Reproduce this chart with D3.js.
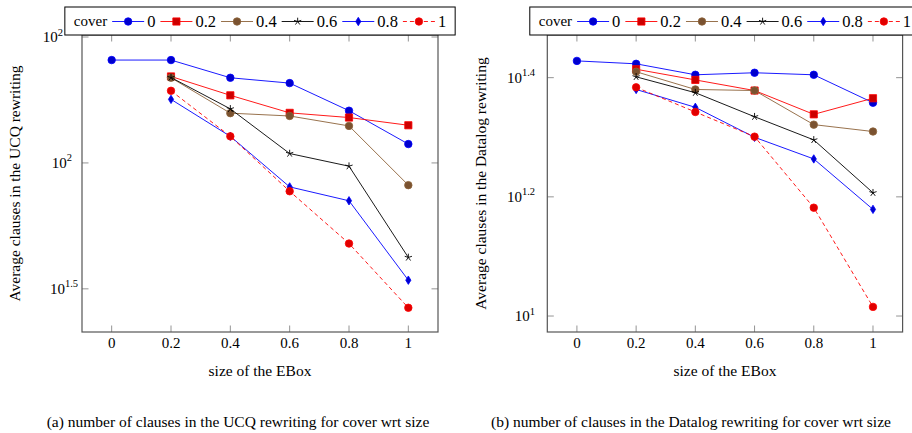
<!DOCTYPE html>
<html>
<head>
<meta charset="utf-8">
<script src="https://cdn.jsdelivr.net/npm/d3@7/dist/d3.min.js"></script>
<style>
  body { margin: 0; background: #fff; }
  svg { display: block; }
  text { font-family: "Liberation Serif", "DejaVu Serif", serif; fill: #000; }
</style>
</head>
<body>
<div id="graph"></div>
<script>
(function () {
	'use strict';

	// x values: size of the EBox
	var sizes = [0, 0.2, 0.4, 0.6, 0.8, 1];
	var xTicks = [0, 0.2, 0.4, 0.6, 0.8, 1];
	var coverLabels = ['0', '0.2', '0.4', '0.6', '0.8', '1'];

	// (a) average clauses in the UCQ rewriting, one array per cover
	var ucqCover0 = [90, 90, 83, 81, 71.4, 61.3];
	var ucqCover02 = [null, 83.5, 76.6, 70.7, 69.2, 66.8];
	var ucqCover04 = [null, 83.0, 70.6, 69.7, 66.6, 50.8];
	var ucqCover06 = [null, 83.1, 72.0, 58.7, 55.4, 36.5];
	var ucqCover08 = [null, 75.2, 63.5, 50.4, 47.3, 32.9];
	var ucqCover1 = [null, 78.2, 63.5, 49.4, 38.9, 29.0];

	// (b) average clauses in the Datalog rewriting, one array per cover
	var dlCover0 = [26.8, 26.5, 25.4, 25.6, 25.4, 22.8];
	var dlCover02 = [null, 25.95, 24.9, 23.9, 21.8, 23.2];
	var dlCover04 = [null, 25.7, 24.0, 23.9, 20.95, 20.4];
	var dlCover06 = [null, 25.2, 23.7, 21.6, 19.75, 16.1];
	var dlCover08 = [null, 24.0, 22.4, 19.95, 18.35, 15.1];
	var dlCover1 = [null, 24.2, 22.0, 20.0, 15.2, 10.36];

	// y tick exponents and the labels printed next to them
	var ucqTickExp = [1.5, 1.75, 2];
	var ucqTickLabels = ['1.5', '2', '2'];
	var dlTickExp = [1, 1.2, 1.4];
	var dlTickLabels = ['1', '1.2', '1.4'];

	var styles = [
		{ line: '#0000ff', fill: '#0000cc', mark: 'circle', dash: null },
		{ line: '#ff0000', fill: '#cc0000', mark: 'square', dash: null },
		{ line: '#8c6239', fill: '#7a5230', mark: 'circle', dash: null },
		{ line: '#000000', fill: '#000000', mark: 'star', dash: null },
		{ line: '#0000ff', fill: '#0000cc', mark: 'diamond', dash: null },
		{ line: '#ff0000', fill: '#e00000', mark: 'circle', dash: '4,3' }
	];

	var svg = d3.select('#graph')
		.append('svg')
		.attr('width', 912)
		.attr('height', 433)
		.attr('font-family', '"Liberation Serif", "DejaVu Serif", serif');

	function markPath(type) {
		if (type === 'square') return 'M-3.6,-3.6H3.6V3.6H-3.6Z';
		if (type === 'diamond') return 'M0,-4.2L2.6,0L0,4.2L-2.6,0Z';
		if (type === 'star') {
			var p = '', r = 3.8;
			for (var i = 0; i < 5; i++) {
				var a = -Math.PI / 2 + i * 2 * Math.PI / 5;
				p += 'M0,0L' + (r * Math.cos(a)).toFixed(2) + ',' + (r * Math.sin(a)).toFixed(2);
			}
			return p;
		}
		return d3.symbol().type(d3.symbolCircle).size(44)();
	}

	function drawMark(g, st, x, y) {
		var m = g.append('path')
			.attr('d', markPath(st.mark))
			.attr('transform', 'translate(' + x + ',' + y + ')');
		if (st.mark === 'star') {
			m.attr('fill', 'none').attr('stroke', '#000').attr('stroke-width', 0.9);
		} else {
			m.attr('fill', st.fill).attr('stroke', st.line).attr('stroke-width', 0.8);
		}
	}

	function drawChart(opt) {
		var left = opt.left, right = opt.right, top = 35, bottom = 332;
		var x = d3.scaleLinear().domain([-0.1, 1.1]).range([left, right]);
		var y = d3.scaleLog()
			.domain([Math.pow(10, opt.expLo), Math.pow(10, opt.expHi)])
			.range([bottom, top]);

		var g = svg.append('g');

		// ticks, inward on all four sides
		var tl = 6.5;
		xTicks.forEach(function (t) {
			g.append('line').attr('x1', x(t)).attr('x2', x(t)).attr('y1', bottom).attr('y2', bottom - tl)
				.attr('stroke', '#888').attr('stroke-width', 0.9);
			g.append('line').attr('x1', x(t)).attr('x2', x(t)).attr('y1', top).attr('y2', top + tl)
				.attr('stroke', '#888').attr('stroke-width', 0.9);
			g.append('text').attr('x', x(t)).attr('y', 348)
				.attr('text-anchor', 'middle').style('font-size', '15px')
				.text(d3.format('')(t));
		});

		opt.tickExp.forEach(function (e, i) {
			var ty = y(Math.pow(10, e));
			g.append('line').attr('x1', left).attr('x2', left + tl).attr('y1', ty).attr('y2', ty)
				.attr('stroke', '#888').attr('stroke-width', 0.9);
			g.append('line').attr('x1', right).attr('x2', right - tl).attr('y1', ty).attr('y2', ty)
				.attr('stroke', '#888').attr('stroke-width', 0.9);
			var lab = g.append('text').attr('x', opt.labelEnd[i]).attr('y', ty + 5)
				.attr('text-anchor', 'end').style('font-size', '15px');
			lab.append('tspan').text('10');
			lab.append('tspan').attr('dy', -6.5).style('font-size', '10.5px').text(opt.tickLabels[i]);
		});

		// frame
		g.append('rect').attr('x', left).attr('y', top)
			.attr('width', right - left).attr('height', bottom - top)
			.attr('fill', 'none').attr('stroke', '#555').attr('stroke-width', 1.2);

		// series
		var line = d3.line()
			.defined(function (d) { return d.v !== null; })
			.x(function (d) { return x(d.s); })
			.y(function (d) { return y(d.v); });

		opt.series.forEach(function (vals, k) {
			var st = styles[k];
			var pts = sizes.map(function (s, i) { return { s: s, v: vals[i] }; });
			g.append('path')
				.attr('d', line(pts))
				.attr('fill', 'none')
				.attr('stroke', st.line)
				.attr('stroke-width', 0.9)
				.attr('stroke-dasharray', st.dash);
			pts.forEach(function (d) {
				if (d.v !== null) drawMark(g, st, x(d.s), y(d.v));
			});
		});

		// axis labels
		g.append('text').attr('x', (left + right) / 2).attr('y', 376)
			.attr('text-anchor', 'middle').style('font-size', '15.5px')
			.text('size of the EBox');
		g.append('text')
			.attr('transform', 'translate(' + opt.yLabelX + ',' + ((top + bottom) / 2) + ') rotate(-90)')
			.attr('text-anchor', 'middle').style('font-size', '15.5px')
			.text(opt.yLabel);

		// legend
		var lg = g.append('g');
		var box = lg.append('rect').attr('y', 7).attr('height', 28)
			.attr('fill', '#fff').attr('stroke', '#000').attr('stroke-width', 1);
		var cx = 0;
		var cover = lg.append('text').attr('x', cx).attr('y', 25.5).style('font-size', '15px').text('cover');
		cx += cover.node().getComputedTextLength() + 5;
		coverLabels.forEach(function (lbl, k) {
			var st = styles[k];
			lg.append('line').attr('x1', cx).attr('x2', cx + 32).attr('y1', 21.5).attr('y2', 21.5)
				.attr('stroke', st.line).attr('stroke-width', 0.9).attr('stroke-dasharray', st.dash);
			drawMark(lg, st, cx + 16, 21.5);
			cx += 35;
			var t = lg.append('text').attr('x', cx).attr('y', 26.5).style('font-size', '16.5px').text(lbl);
			cx += t.node().getComputedTextLength() + 5;
		});
		var w = cx - 5 + 9;
		var bx = (left + right) / 2 - (w + 9) / 2;
		box.attr('x', -9).attr('width', w + 9);
		lg.attr('transform', 'translate(' + (bx + 9) + ',0)');

		// caption
		svg.append('text').attr('x', opt.capX).attr('y', 427)
			.attr('text-anchor', 'middle').style('font-size', '15.5px')
			.text(opt.caption);
	}

	drawChart({
		left: 82, right: 438,
		expLo: 1.4143, expHi: 2.004,
		tickExp: ucqTickExp, tickLabels: ucqTickLabels,
		labelEnd: [78, 72, 63],
		series: [ucqCover0, ucqCover02, ucqCover04, ucqCover06, ucqCover08, ucqCover1],
		yLabel: 'Average clauses in the UCQ rewriting', yLabelX: 20,
		caption: '(a) number of clauses in the UCQ rewriting for cover wrt size', capX: 238
	});

	drawChart({
		left: 547.3, right: 902.6,
		expLo: 0.9732, expHi: 1.4716,
		tickExp: dlTickExp, tickLabels: dlTickLabels,
		labelEnd: [535, 535, 535],
		series: [dlCover0, dlCover02, dlCover04, dlCover06, dlCover08, dlCover1],
		yLabel: 'Average clauses in the Datalog rewriting', yLabelX: 486,
		caption: '(b) number of clauses in the Datalog rewriting for cover wrt size', capX: 691
	});
})();
</script>
</body>
</html>
